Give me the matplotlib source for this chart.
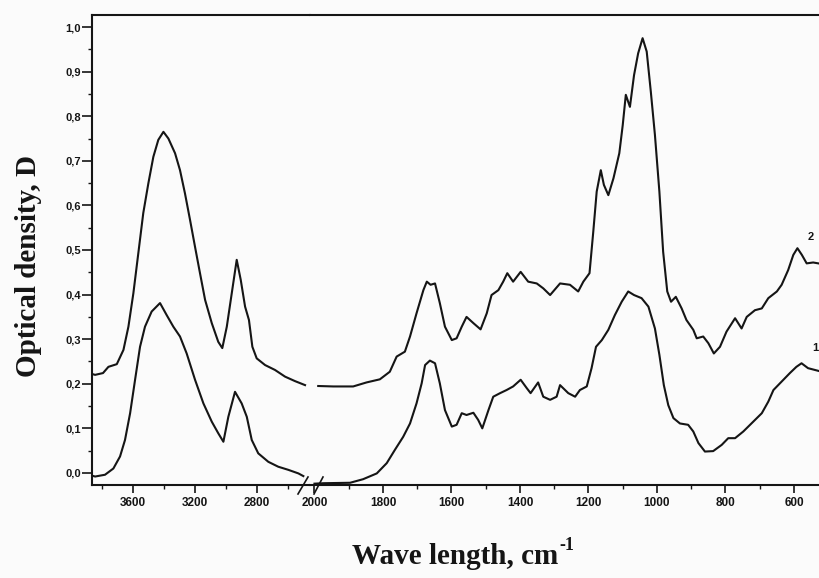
import matplotlib
matplotlib.use("Agg")
import matplotlib.pyplot as plt
from matplotlib.lines import Line2D
from matplotlib.ticker import MultipleLocator, FixedLocator, FuncFormatter

# ==========================
# DATA
# ==========================
# high wavenumber part, curve 2 (upper)
wn_hi_2 = [3865, 3845, 3794, 3759, 3705, 3662, 3630, 3598, 3566, 3534, 3501, 3469,
           3437, 3404, 3372, 3329, 3297, 3265, 3232, 3200, 3168, 3135, 3092, 3050,
           3024, 2995, 2963, 2931, 2905, 2877, 2852, 2830, 2802, 2748, 2684, 2619,
           2555, 2490]
od_hi_2 = [0.222, 0.220, 0.224, 0.238, 0.244, 0.276, 0.328, 0.403, 0.493, 0.583, 0.650, 0.709,
           0.747, 0.765, 0.750, 0.717, 0.679, 0.627, 0.567, 0.507, 0.448, 0.388, 0.336, 0.294,
           0.280, 0.328, 0.403, 0.478, 0.433, 0.373, 0.343, 0.283, 0.257, 0.242, 0.231, 0.216,
           0.206, 0.197]

# high wavenumber part, curve 1 (lower)
wn_hi_1 = [3865, 3845, 3781, 3727, 3684, 3652, 3619, 3587, 3555, 3523, 3480, 3426,
           3383, 3340, 3297, 3254, 3200, 3146, 3092, 3050, 3017, 2985, 2942, 2899,
           2866, 2834, 2792, 2727, 2663, 2598, 2533, 2501]
od_hi_1 = [-0.006, -0.008, -0.004, 0.010, 0.037, 0.074, 0.134, 0.209, 0.283, 0.328, 0.362, 0.381,
           0.354, 0.328, 0.306, 0.268, 0.209, 0.156, 0.115, 0.089, 0.070, 0.126, 0.182, 0.156,
           0.126, 0.074, 0.044, 0.025, 0.014, 0.007, -0.001, -0.007]

# fingerprint part, curve 2
wn_lo_2 = [1989, 1945, 1887, 1848, 1809, 1780, 1760, 1736, 1721, 1702, 1682, 1672,
           1661, 1648, 1634, 1619, 1599, 1585, 1570, 1556, 1536, 1515, 1497, 1483,
           1463, 1449, 1437, 1420, 1398, 1376, 1351, 1332, 1312, 1283, 1254, 1230,
           1215, 1197, 1186, 1176, 1164, 1155, 1142, 1127, 1110, 1100, 1091, 1079,
           1067, 1055, 1042, 1030, 1018, 1006, 993, 982, 970, 959, 945, 928,
           914, 894, 884, 865, 850, 834, 816, 797, 772, 753, 738, 714,
           694, 675, 650, 636, 617, 602, 590, 577, 563, 544, 529]
od_lo_2 = [0.195, 0.194, 0.194, 0.203, 0.210, 0.227, 0.261, 0.272, 0.306, 0.358, 0.410, 0.429,
           0.422, 0.425, 0.381, 0.328, 0.298, 0.302, 0.328, 0.350, 0.336, 0.322, 0.358, 0.399,
           0.410, 0.429, 0.448, 0.429, 0.451, 0.429, 0.425, 0.414, 0.399, 0.425, 0.422, 0.407,
           0.429, 0.448, 0.541, 0.631, 0.679, 0.646, 0.623, 0.661, 0.717, 0.780, 0.848, 0.821,
           0.892, 0.941, 0.975, 0.945, 0.855, 0.758, 0.631, 0.496, 0.407, 0.384, 0.395, 0.369,
           0.343, 0.321, 0.302, 0.306, 0.291, 0.268, 0.283, 0.317, 0.347, 0.324, 0.350, 0.365,
           0.369, 0.392, 0.407, 0.422, 0.455, 0.489, 0.504, 0.489, 0.470, 0.472, 0.470]

# fingerprint part, curve 1
wn_lo_1 = [2000, 1974, 1896, 1858, 1818, 1789, 1765, 1741, 1721, 1702, 1687, 1677,
           1663, 1648, 1634, 1619, 1599, 1585, 1570, 1556, 1536, 1522, 1510, 1492,
           1478, 1458, 1439, 1420, 1398, 1380, 1369, 1347, 1332, 1312, 1293, 1283,
           1259, 1239, 1225, 1205, 1191, 1178, 1161, 1142, 1123, 1103, 1084, 1067,
           1045, 1025, 1006, 993, 980, 967, 952, 933, 909, 894, 879, 860,
           836, 811, 792, 772, 748, 719, 694, 675, 660, 636, 612, 593,
           578, 559, 529]
od_lo_1 = [-0.024, -0.023, -0.022, -0.014, -0.001, 0.022, 0.052, 0.081, 0.111, 0.156, 0.201, 0.242,
           0.252, 0.246, 0.201, 0.141, 0.104, 0.108, 0.134, 0.130, 0.135, 0.119, 0.100, 0.141,
           0.171, 0.179, 0.186, 0.194, 0.209, 0.190, 0.179, 0.203, 0.171, 0.164, 0.171, 0.197,
           0.179, 0.171, 0.186, 0.194, 0.235, 0.283, 0.298, 0.321, 0.354, 0.384, 0.407, 0.399,
           0.392, 0.373, 0.324, 0.265, 0.197, 0.152, 0.123, 0.111, 0.108, 0.093, 0.067, 0.048,
           0.049, 0.063, 0.078, 0.078, 0.093, 0.115, 0.134, 0.160, 0.186, 0.205, 0.224, 0.238,
           0.246, 0.235, 0.229]

y_ticks = [0.0, 0.1, 0.2, 0.3, 0.4, 0.5, 0.6, 0.7, 0.8, 0.9, 1.0]
hi_major = [3600, 3200, 2800]
hi_minor = [3800, 3400, 3000, 2600]

# ==========================
# FIGURE / AXES (broken x axis)
# ==========================
W, H = 819, 578
fig = plt.figure(figsize=(W / 100, H / 100), dpi=100)
bg = "#fbfbfb"
ink = "#151515"
fig.patch.set_facecolor(bg)


def frac(x0, y0, x1, y1):
    return [x0 / W, 1 - y1 / H, (x1 - x0) / W, (y1 - y0) / H]


ax_hi = fig.add_axes(frac(92, 15, 310, 485))
ax_lo = fig.add_axes(frac(310, 15, 819, 485))

for ax in (ax_hi, ax_lo):
    ax.set_facecolor(bg)
    ax.set_ylim(-0.027, 1.027)
    for s in ax.spines.values():
        s.set_linewidth(1.5)
        s.set_color(ink)
    ax.tick_params(which="major", direction="out", length=6, width=1.2, pad=3, color=ink)
    ax.tick_params(which="minor", direction="out", length=3, width=1.0, color=ink)

# left (3800-2500) part
ax_hi.plot(wn_hi_2, od_hi_2, color=ink, lw=1.5)
ax_hi.plot(wn_hi_1, od_hi_1, color=ink, lw=1.5)
ax_hi.set_xlim(3865, 2458)
ax_hi.xaxis.set_major_locator(FixedLocator(hi_major))
ax_hi.xaxis.set_minor_locator(FixedLocator(hi_minor))
ax_hi.spines["right"].set_visible(False)
ax_hi.yaxis.set_major_locator(FixedLocator(y_ticks))
ax_hi.yaxis.set_minor_locator(MultipleLocator(0.05))
ax_hi.yaxis.set_major_formatter(FuncFormatter(lambda v, p: f"{v:.1f}".replace(".", ",")))
ax_hi.tick_params(axis="y", which="major", length=7, pad=1)

# right (2000-500) part
ax_lo.plot(wn_lo_2, od_lo_2, color=ink, lw=1.5)
ax_lo.plot(wn_lo_1, od_lo_1, color=ink, lw=1.5)
ax_lo.set_xlim(2013, 527)
ax_lo.xaxis.set_major_locator(MultipleLocator(200))
ax_lo.xaxis.set_minor_locator(MultipleLocator(100))
ax_lo.spines["left"].set_visible(False)
ax_lo.spines["right"].set_visible(False)
ax_lo.tick_params(axis="y", which="both", left=False, labelleft=False)

for ax in (ax_hi, ax_lo):
    for lbl in ax.get_xticklabels() + ax.get_yticklabels():
        lbl.set_family("Liberation Sans")
        lbl.set_size(8)
        lbl.set_weight("bold")
        lbl.set_color(ink)
    for lbl in ax.get_xticklabels():
        lbl.set_size(8.5)

# ==========================
# BREAK MARKS
# ==========================
for x0, x1 in [(298, 308), (314, 323)]:
    fig.add_artist(Line2D([x0 / W, x1 / W], [1 - 494 / H, 1 - 477 / H],
                          color=ink, lw=1.2))

# ==========================
# LABELS
# ==========================
for txt, px, py in [("2", 811, 237), ("1", 815, 348)]:
    ax_lo.annotate(txt, xy=(px / W, 1 - py / H), xycoords="figure fraction", fontsize=8,
                   fontweight="bold", family="Liberation Sans", ha="center", va="center",
                   color=ink, annotation_clip=False)

fig.text(28 / W, 1 - 266 / H, "Optical density, D", rotation=90, ha="center", va="center",
         family="Liberation Serif", fontsize=21, weight="bold", color=ink)
xl = fig.text(352 / W, 1 - 557 / H, "Wave length, cm", ha="left", va="center",
              family="Liberation Serif", fontsize=21, weight="bold", color=ink)
ax_lo.annotate("-1", xy=(1.0, 0.62), xycoords=xl, xytext=(1, 0), textcoords="offset points",
               ha="left", va="bottom", family="Liberation Serif", fontsize=13, weight="bold",
               color=ink, annotation_clip=False)

fig.savefig("out.png", dpi=100, facecolor=bg)
